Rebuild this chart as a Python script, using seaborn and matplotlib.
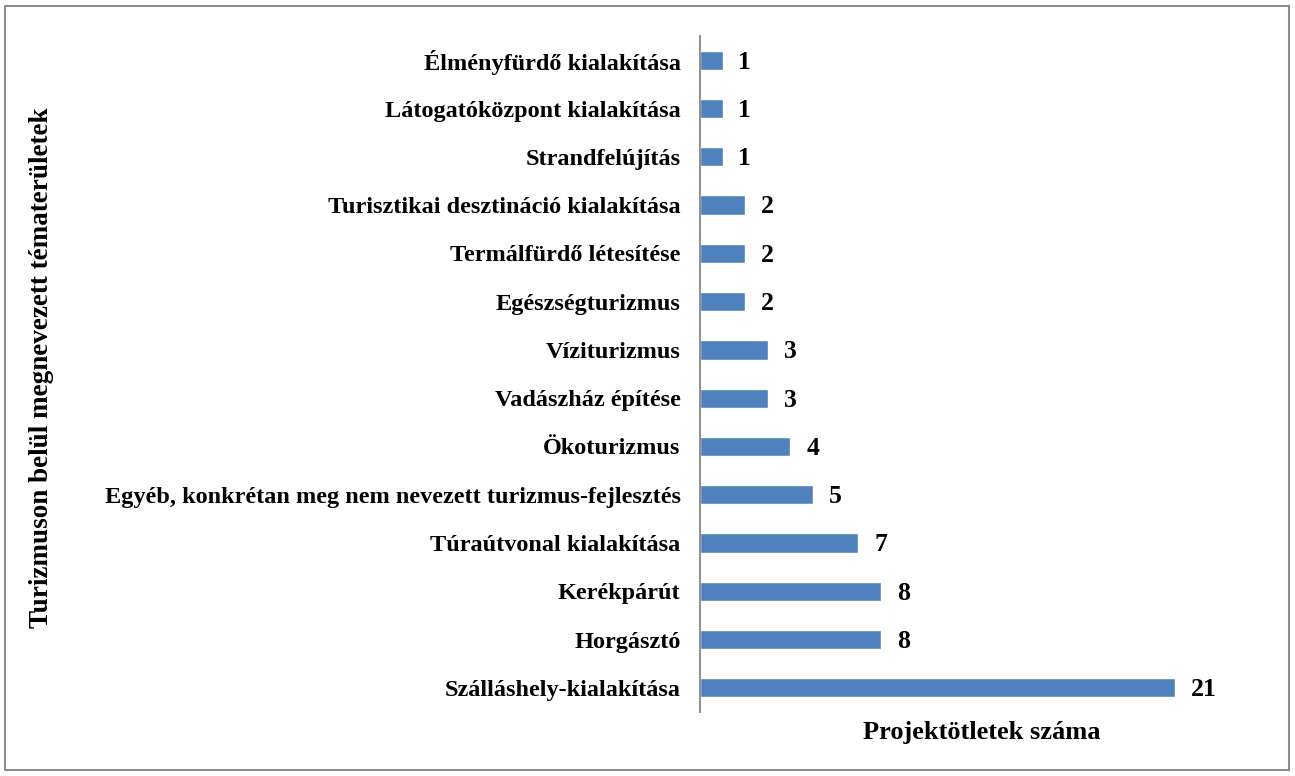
import matplotlib.pyplot as plt
import pandas as pd
import seaborn as sns
from matplotlib.patches import Rectangle

# data, top to bottom as in the chart
categories = [
    "Élményfürdő kialakítása",
    "Látogatóközpont kialakítása",
    "Strandfelújítás",
    "Turisztikai desztináció kialakítása",
    "Termálfürdő létesítése",
    "Egészségturizmus",
    "Víziturizmus",
    "Vadászház építése",
    "Ökoturizmus",
    "Egyéb, konkrétan meg nem nevezett turizmus-fejlesztés",
    "Túraútvonal kialakítása",
    "Kerékpárút",
    "Horgásztó",
    "Szálláshely-kialakítása",
]
counts = [1, 1, 1, 2, 2, 2, 3, 3, 4, 5, 7, 8, 8, 21]

df = pd.DataFrame({"tema": categories, "db": counts})

sns.set_theme(style="white")
plt.rcParams["font.family"] = ["Liberation Serif", "DejaVu Serif"]
plt.rcParams["font.weight"] = "bold"
plt.rcParams["text.color"] = "black"
plt.rcParams["ytick.color"] = "black"
plt.rcParams["axes.labelcolor"] = "black"

fig = plt.figure(figsize=(12.95, 7.76), dpi=100)
ax = fig.add_axes([0.5405, 0.0825, 0.4365, 0.871])

sns.barplot(data=df, x="db", y="tema", orient="h", color="#4F81BD",
            width=0.4, saturation=1, ax=ax)

for i, v in enumerate(counts):
    ax.text(v + 0.7, i + 0.04, str(v), va="center", ha="left",
            fontsize=18.5, fontweight="bold", color="black")

ax.set_xlim(0, 25)
ax.set_ylim(len(categories) - 0.5, -0.5)
ax.set_xticks([])
ax.set_xlabel("")
ax.set_ylabel("")
ax.tick_params(axis="y", length=0, pad=14, labelsize=17.5, labelcolor="black")
for lbl in ax.get_yticklabels():
    lbl.set_fontweight("bold")
for side in ["top", "right", "bottom"]:
    ax.spines[side].set_visible(False)
ax.spines["left"].set_color("#868686")
ax.spines["left"].set_linewidth(1.3)

fig.text(982 / 1295, 1 - 733 / 776, "Projektötletek száma",
         ha="center", va="center", fontsize=19, fontweight="bold")
fig.text(42 / 1295, 1 - 368 / 776, "Turizmuson belül megnevezett tématerületek",
         ha="center", va="center", rotation=90, fontsize=19.5, fontweight="bold")

# outer frame
fig.patches.append(Rectangle((5 / 1295, 6 / 776), 1284 / 1295, 764 / 776,
                             transform=fig.transFigure, fill=False,
                             edgecolor="#8c8c8c", linewidth=1.5))

fig.savefig("out.png", dpi=100)
